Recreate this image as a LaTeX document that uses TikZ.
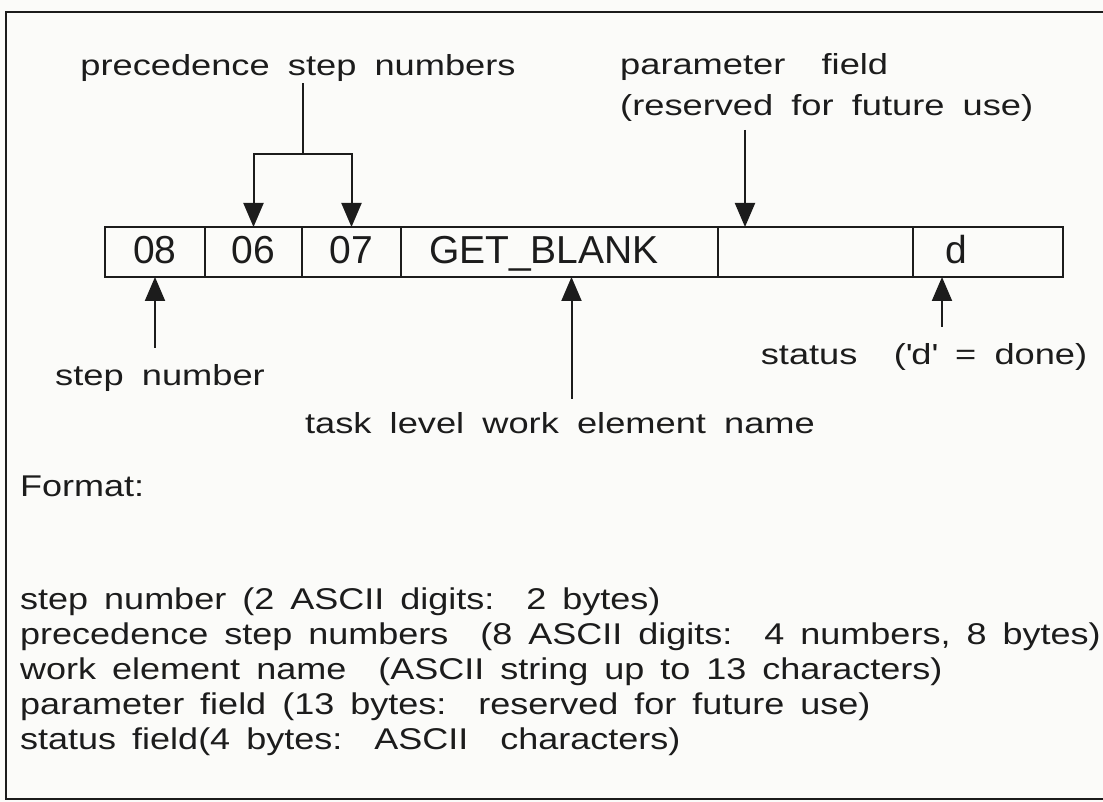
\documentclass[tikz,border=0pt]{standalone}
\usepackage{fontspec}
\setmainfont{Liberation Sans}
\newfontfamily\wideface[FakeStretch=1.25,WordSpace=1.8]{Liberation Sans}
\newfontfamily\listface[FakeStretch=1.2,WordSpace=1.6]{Liberation Sans}
\usetikzlibrary{arrows.meta,positioning}
\definecolor{ink}{HTML}{1C1C1C}
\definecolor{paper}{HTML}{FBFBF9}

\begin{document}
\begin{tikzpicture}[x=1pt,y=-1pt,
    tag/.style={font=\wideface\fontsize{29}{41}\selectfont,text=ink,inner sep=0pt},
    fmt/.style={font=\listface\fontsize{30}{35}\selectfont,text=ink,inner sep=0pt,anchor=base west},
    cell/.style={draw=ink,line width=2.2pt,minimum height=50pt,inner sep=0pt,outer sep=0pt,
      text height=27pt,text depth=3pt,font=\fontsize{39}{40}\selectfont,text=ink},
    pointer/.style={draw=ink,line width=2pt,-{Triangle[length=24pt,width=20pt]}}]
  \fill[paper] (0,0) rectangle (1103,802);
  \useasboundingbox (0,0) rectangle (1103,802);
  \draw[ink,line width=2.5pt] (1130,12) -- (6,12) -- (6,799) -- (1130,799);

  \node[cell,minimum width=100pt] (s1) at (155,252) {08};
  \node[cell,minimum width=97pt,right=0pt of s1] (s2) {06};
  \node[cell,minimum width=99pt,right=0pt of s2] (s3) {07};
  \node[cell,minimum width=317pt,text width=261pt,inner xsep=28pt,align=left,right=0pt of s3] (s4) {GET\_BLANK};
  \node[cell,minimum width=195pt,right=0pt of s4] (s5) {};
  \node[cell,minimum width=150pt,text width=86pt,inner xsep=32pt,align=left,right=0pt of s5] (s6) {d};

  \node[tag,anchor=base] (prec) at (298,76) {precedence step numbers};
  \coordinate (fork) at (303,154);
  \draw[ink,line width=2pt,line cap=rect,shorten <=2pt] (prec.south -| fork) -- (fork);
  \draw[ink,line width=2pt,line cap=rect] (fork -| s2) -- (fork -| s3);
  \draw[pointer] (fork -| s2) -- (s2.north);
  \draw[pointer] (fork -| s3) -- (s3.north);

  \node[tag,anchor=north west,align=left] (param) at (620,53) {parameter\ \ field\\(reserved for future use)};
  \coordinate (ppin) at (745,130);
  \draw[pointer] (ppin) -- (ppin |- s5.north);

  \node[tag,anchor=base] (stepno) at (160,385) {step number};
  \draw[pointer,shorten <=16pt] (stepno.north -| s1) -- (s1.south);

  \node[tag,anchor=base] (task) at (560,433) {task level work element name};
  \coordinate (wpin) at ([xshift=12pt]s4.south);
  \draw[pointer,shorten <=13pt] (task.north -| wpin) -- (wpin);

  \node[tag,anchor=base] (stat) at (924,364) {status\ \ (\textquotesingle d\textquotesingle\ = done)};
  \coordinate (dpin) at ([xshift=-46pt]s6.south);
  \draw[pointer,shorten <=16pt] (stat.north -| dpin) -- (dpin);

  \node[fmt] (fmthead) at (20,496) {Format:};
  \node[fmt] (f1) at (20,609) {step number (2 ASCII digits:\ \ 2 bytes)};
  \node[fmt] (f2) at (20,644) {precedence step numbers\ \ (8 ASCII digits:\ \ 4 numbers, 8 bytes)};
  \node[fmt] (f3) at (20,679) {work element name\ \ (ASCII string up to 13 characters)};
  \node[fmt] (f4) at (20,714) {parameter field (13 bytes:\ \ reserved for future use)};
  \node[fmt] (f5) at (20,749) {status field(4 bytes:\ \ ASCII\ \ characters)};
\end{tikzpicture}
\end{document}
